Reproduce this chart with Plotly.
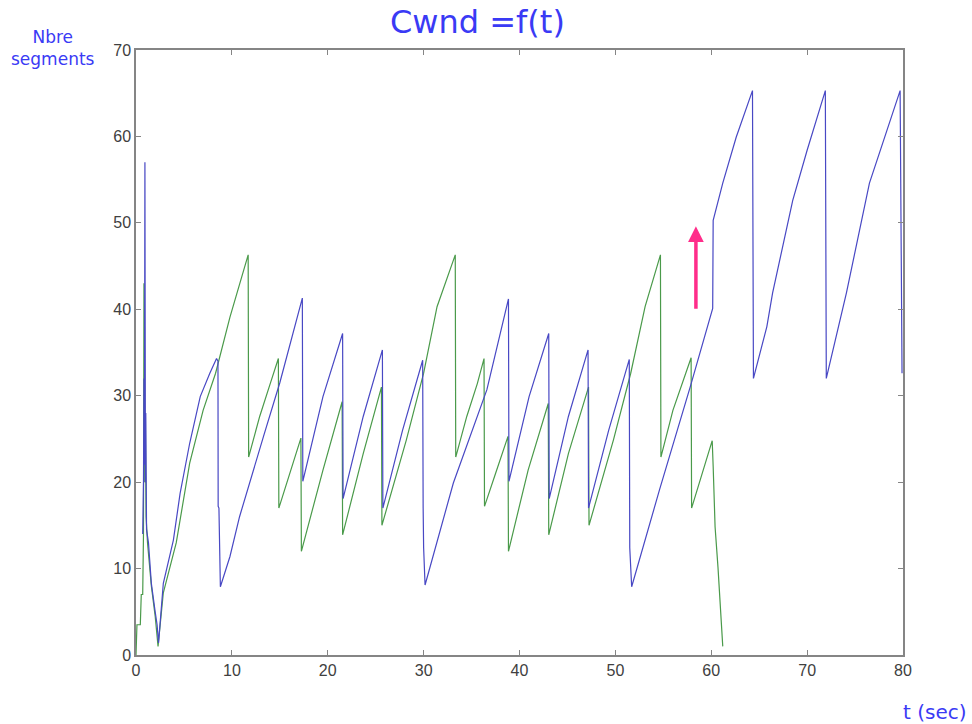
import plotly.graph_objects as go

# ---- data ----
blue_t = [0.70, 0.78, 0.83, 0.88, 0.93, 0.96, 0.98, 1.02, 1.06, 1.10, 1.3, 1.6, 2.0, 2.2, 2.35,
          2.85, 3.9, 4.6, 5.6, 6.7, 7.7, 8.4, 8.55,
          8.57, 8.65, 8.8,
          9.8, 10.8, 13.3, 15.0, 17.35,
          17.4, 19.5, 21.55,
          21.6, 23.7, 25.7,
          25.75, 27.8, 29.9,
          29.95, 30.0, 30.15,
          33.1, 36.6, 38.85,
          38.9, 41.0, 43.05,
          43.1, 45.1, 47.15,
          47.2, 49.3, 51.45,
          51.5, 51.7,
          54.6, 57.8, 60.15,
          60.2, 61.2, 62.6, 64.3,
          64.4, 65.8, 66.4, 68.5, 70.0, 71.9,
          72.0, 74.1, 76.5, 79.7,
          79.9]
blue_y = [14, 20, 32, 22, 57, 38, 20, 28, 21, 14.5, 13, 8.3, 5, 3.5, 1.4,
          8.3, 13.3, 18.7, 24.5, 29.9, 32.6, 34.3, 34.0,
          17.2, 17.0, 7.9,
          11.4, 16.0, 25.3, 31.5, 41.3,
          20.1, 29.9, 37.2,
          18.1, 27.6, 35.3,
          17.0, 26.0, 34.1,
          17.0, 12.4, 8.1,
          19.9, 30.7, 41.2,
          20.1, 29.9, 37.2,
          18.1, 27.6, 35.3,
          17.0, 26.0, 34.2,
          12.4, 7.9,
          19.1, 31.0, 40.1,
          50.3, 54.6, 59.9, 65.3,
          32.0, 38.0, 41.9, 52.6, 58.4, 65.3,
          32.0, 41.9, 54.6, 65.3,
          32.6]

green_t = [0.0, 0.1, 0.45, 0.55, 0.7, 0.78, 0.83, 0.88, 0.93, 0.98, 1.05, 1.2, 1.6, 2.0, 2.3,
           2.85, 4.2, 5.6, 7.0, 8.3, 9.8, 11.7,
           11.75, 12.9, 14.0, 14.85,
           14.9, 16.0, 17.2,
           17.25, 19.5, 21.5,
           21.55, 23.7, 25.6,
           25.65, 28.2, 30.0, 31.4, 33.3,
           33.35, 34.5, 35.6, 36.3,
           36.35, 37.5, 38.8,
           38.85, 40.9, 43.0,
           43.05, 45.1, 47.2,
           47.25, 49.8, 51.6, 53.1, 54.7,
           54.75, 56.0, 57.9,
           57.95, 60.1, 60.2, 60.4, 60.7, 61.0, 61.2]
green_y = [0.0, 3.5, 3.5, 7, 7, 14, 43, 38, 20, 28, 16, 13, 8, 4.5, 1.0,
           7.2, 13.0, 22.2, 28.3, 32.6, 39.1, 46.3,
           22.9, 27.6, 31.4, 34.3,
           17.0, 21.0, 25.1,
           12.0, 21.4, 29.3,
           13.9, 23.3, 31.0,
           15.0, 24.9, 32.6, 40.3, 46.3,
           22.9, 27.6, 31.4, 34.3,
           17.2, 21.0, 25.3,
           12.0, 21.4, 29.1,
           13.9, 23.3, 31.0,
           15.0, 24.9, 32.6, 40.3, 46.3,
           22.9, 28.3, 34.4,
           17.0, 24.8, 21.8, 14.8, 10.2, 4.4, 1.0]

x_ticks = [0, 10, 20, 30, 40, 50, 60, 70, 80]
y_ticks = [0, 10, 20, 30, 40, 50, 60, 70]

arrow_t = 58.4
arrow_from = 39.9
arrow_to = 49.6

TEXT_BLUE = "#3a3af5"

fig = go.Figure()
fig.add_trace(go.Scatter(x=green_t, y=green_y, mode="lines",
                         line=dict(color="#4a9a4a", width=1.2), showlegend=False))
fig.add_trace(go.Scatter(x=blue_t, y=blue_y, mode="lines",
                         line=dict(color="#4848c4", width=1.2), showlegend=False))

axis_common = dict(showline=True, mirror="ticks", linecolor="#858585", linewidth=1.5,
                   ticks="inside", ticklen=5, tickcolor="#858585", showgrid=False,
                   zeroline=False,
                   tickfont=dict(family="Liberation Sans, Arial", size=16, color="#404040"))

fig.update_xaxes(range=[0, 80], tickvals=x_ticks, **axis_common)
fig.update_yaxes(range=[0, 70], tickvals=y_ticks, **axis_common)

fig.add_annotation(x=arrow_t, y=arrow_to, ax=arrow_t, ay=arrow_from,
                   xref="x", yref="y", axref="x", ayref="y",
                   showarrow=True, arrowhead=2, arrowsize=0.9, arrowwidth=3.5,
                   arrowcolor="#ff2d8a", text="")

fig.add_annotation(text="Cwnd =f(t)", xref="paper", yref="paper", x=0.4446, y=1.046,
                   xanchor="center", yanchor="middle", showarrow=False,
                   font=dict(family="DejaVu Sans", size=32, color=TEXT_BLUE))
fig.add_annotation(text="Nbre<br>segments", xref="paper", yref="paper", x=-0.108, y=1.003,
                   xanchor="center", yanchor="middle", showarrow=False,
                   font=dict(family="DejaVu Sans", size=17, color=TEXT_BLUE))
fig.add_annotation(text="t (sec)", xref="paper", yref="paper", x=1.0417, y=-0.094,
                   xanchor="center", yanchor="middle", showarrow=False,
                   font=dict(family="DejaVu Sans", size=20, color=TEXT_BLUE))

fig.update_layout(width=972, height=724, margin=dict(l=136, r=69, t=50, b=69),
                  paper_bgcolor="white", plot_bgcolor="white")

fig.write_html("out.html")
